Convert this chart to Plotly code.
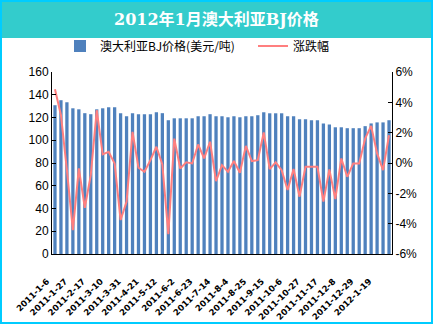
import plotly.graph_objects as go

# Weekly observation dates (category axis)
dates = [
    "2011-1-6", "2011-1-13", "2011-1-20", "2011-1-27", "2011-2-3", "2011-2-10",
    "2011-2-17", "2011-2-24", "2011-3-3", "2011-3-10", "2011-3-17", "2011-3-24",
    "2011-3-31", "2011-4-7", "2011-4-14", "2011-4-21", "2011-4-28", "2011-5-5",
    "2011-5-12", "2011-5-19", "2011-5-26", "2011-6-2", "2011-6-9", "2011-6-16",
    "2011-6-23", "2011-6-30", "2011-7-7", "2011-7-14", "2011-7-21", "2011-7-28",
    "2011-8-4", "2011-8-11", "2011-8-18", "2011-8-25", "2011-9-1", "2011-9-8",
    "2011-9-15", "2011-9-22", "2011-9-29", "2011-10-6", "2011-10-13", "2011-10-20",
    "2011-10-27", "2011-11-3", "2011-11-10", "2011-11-17", "2011-11-24", "2011-12-1",
    "2011-12-8", "2011-12-15", "2011-12-22", "2011-12-29", "2012-1-5", "2012-1-12",
    "2012-1-19", "2012-1-26", "2012-2-2",
]

# Price, USD per tonne
price = [
    130.8, 135.2, 133.4, 128.1, 127.2, 123.8, 122.9, 127.2, 128.1, 129.0,
    129.0, 123.8, 121.1, 123.8, 122.9, 122.9, 122.9, 124.6, 123.8, 117.6,
    119.3, 119.3, 119.3, 119.3, 121.1, 121.1, 122.9, 121.1, 121.1, 120.2,
    121.1, 120.2, 121.1, 121.1, 122.0, 124.6, 123.7, 123.7, 123.7, 121.1,
    121.1, 118.5, 118.5, 117.6, 117.6, 114.8, 113.9, 111.4, 111.4, 110.6,
    110.6, 110.6, 112.4, 114.8, 115.7, 115.7, 117.6,
]

# Change, percent
change = [
    4.86, 3.15, -0.47, -4.43, -0.36, -2.95, -0.80, 3.48, 0.57, 0.74,
    -0.03, -3.76, -2.55, 2.05, -0.31, -0.58, 0.19, 1.07, -0.10, -4.70,
    1.61, -0.36, 0.04, -0.03, 1.22, 0.30, 1.40, -1.19, -0.14, -0.58,
    0.13, -0.64, 1.13, 0.13, 0.19, 2.01, -0.40, 0.04, -0.47, -1.78,
    -0.40, -2.22, -0.25, -0.25, -0.25, -2.55, -0.42, -2.38, 0.30, -0.91,
    -0.03, -0.03, 1.61, 2.45, 0.63, -0.47, 1.83,
]

label_dates = dates[0:55:3]
left_ticks = [0, 20, 40, 60, 80, 100, 120, 140, 160]
right_ticks = [-6, -4, -2, 0, 2, 4, 6]
right_text = ["-6%", "-4%", "-2%", "0%", "2%", "4%", "6%"]

title_text = "2012年1月澳大利亚BJ价格"
bar_name = "澳大利亚BJ价格(美元/吨)"
line_name = "涨跌幅"

fig = go.Figure()
fig.add_trace(go.Bar(
    x=dates, y=price, name=bar_name,
    marker=dict(color="#4F81BD", line=dict(width=0)),
    yaxis="y", legend="legend",
))
fig.add_trace(go.Scatter(
    x=dates, y=change, name=line_name, mode="lines",
    line=dict(color="#FF7F7F", width=2),
    yaxis="y2", legend="legend2",
))

# Plot area geometry in pixels (used for the decorative frame)
W, H = 433, 325
ML, MR, MT, MB = 52, 41, 72, 71
PW, PH = W - ML - MR, H - MT - MB


def px_x(p):
    return (p - ML) / PW


def px_y(p):
    return (H - MB - p) / PH


axis_font = dict(family="Liberation Sans, Arial, sans-serif", size=12, color="#000000")
legend_font = dict(family="Noto Sans CJK SC, sans-serif", size=12, color="#000000")

fig.update_layout(
    width=W, height=H,
    margin=dict(l=ML, r=MR, t=MT, b=MB, autoexpand=False),
    paper_bgcolor="#FFFFFF", plot_bgcolor="#FFFFFF",
    bargap=0.45,
    showlegend=True,
    legend=dict(
        orientation="h", x=px_x(60), y=px_y(46), xanchor="left", yanchor="middle",
        font=legend_font, bgcolor="rgba(0,0,0,0)", itemwidth=30,
    ),
    legend2=dict(
        orientation="h", x=px_x(253), y=px_y(46), xanchor="left", yanchor="middle",
        font=legend_font, bgcolor="rgba(0,0,0,0)", itemwidth=30,
    ),
    xaxis=dict(
        type="category", range=[-0.5, len(dates) - 0.5],
        tickmode="array", tickvals=label_dates, ticktext=label_dates,
        tickangle=-45, ticks="", showline=True, linecolor="#000000", linewidth=1,
        showgrid=False, zeroline=False,
        tickfont=dict(family="DejaVu Sans, sans-serif", size=8.5, color="#000000", weight="bold"),
        ticklabelstandoff=18, ticklabelshift=-8,
    ),
    yaxis=dict(
        range=[0, 160], tickmode="array", tickvals=left_ticks,
        ticks="inside", ticklen=4, tickcolor="#000000",
        showline=True, linecolor="#000000", linewidth=1,
        showgrid=False, zeroline=False, tickfont=axis_font,
    ),
    yaxis2=dict(
        range=[-6, 6], overlaying="y", side="right",
        tickmode="array", tickvals=right_ticks, ticktext=right_text,
        ticks="inside", ticklen=4, tickcolor="#000000",
        showline=True, linecolor="#000000", linewidth=1,
        showgrid=False, zeroline=False, tickfont=axis_font,
    ),
    shapes=[
        # title band
        dict(type="rect", xref="paper", yref="paper", layer="below",
             x0=px_x(1), x1=px_x(432), y0=px_y(38), y1=px_y(1),
             fillcolor="#33CCCC", line=dict(width=0)),
        # outer frame
        dict(type="rect", xref="paper", yref="paper", layer="above",
             x0=px_x(1), x1=px_x(432), y0=px_y(323), y1=px_y(1),
             fillcolor="rgba(0,0,0,0)", line=dict(color="#00CCFF", width=2)),
    ],
    annotations=[
        dict(text=title_text, xref="paper", yref="paper",
             x=px_x(216.5), y=px_y(20), xanchor="center", yanchor="middle",
             showarrow=False,
             font=dict(family="DejaVu Serif, Noto Sans CJK SC, serif", size=16,
                       color="#FFFFFF", weight="bold")),
    ],
)

fig.write_html("out.html")
